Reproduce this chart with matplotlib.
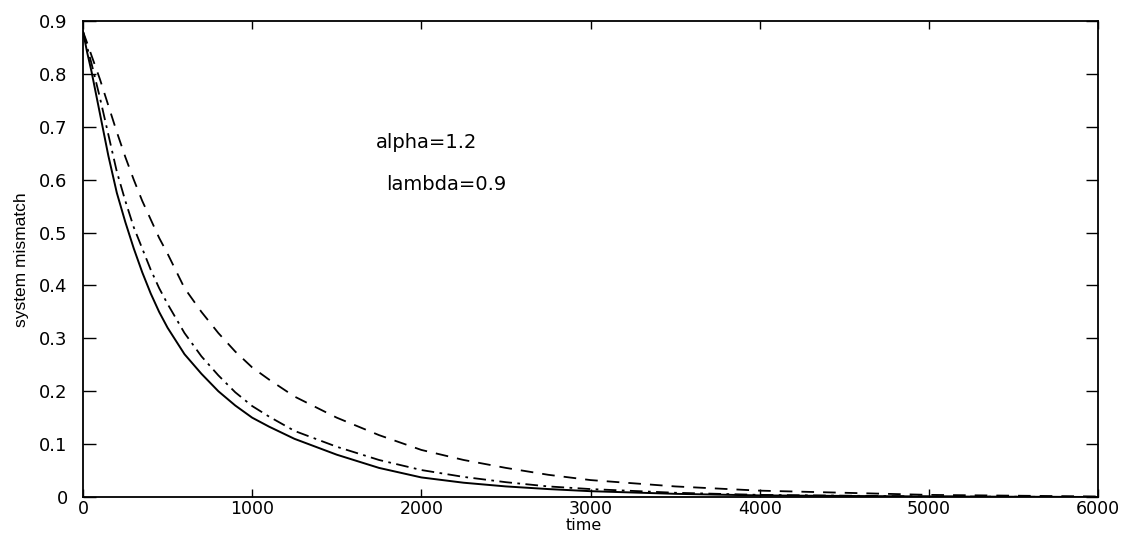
import matplotlib
matplotlib.use("Agg")
import matplotlib.pyplot as plt

# time samples
t = [0, 25, 50, 100, 150, 200, 250, 300, 350, 400, 450, 500, 600, 700, 800,
     900, 1000, 1100, 1250, 1500, 1750, 2000, 2250, 2500, 2750, 3000, 3500,
     4000, 5000, 6000]

# solid curve
solid = [0.88, 0.84, 0.805, 0.725, 0.645, 0.575, 0.52, 0.47, 0.425, 0.385,
         0.35, 0.32, 0.27, 0.233, 0.20, 0.173, 0.15, 0.133, 0.11, 0.08,
         0.055, 0.037, 0.027, 0.02, 0.015, 0.011, 0.006, 0.003, 0.001, 0.0]
# dash-dot curve
dashdot = [0.88, 0.85, 0.82, 0.755, 0.685, 0.615, 0.56, 0.51, 0.47, 0.43,
           0.395, 0.365, 0.31, 0.266, 0.23, 0.198, 0.172, 0.152, 0.125, 0.095,
           0.07, 0.051, 0.038, 0.028, 0.02, 0.015, 0.008, 0.004, 0.001, 0.0]
# dashed curve
dashed = [0.88, 0.858, 0.835, 0.79, 0.74, 0.69, 0.643, 0.60, 0.56, 0.525,
          0.49, 0.46, 0.395, 0.35, 0.31, 0.275, 0.245, 0.222, 0.19, 0.15,
          0.117, 0.089, 0.07, 0.055, 0.042, 0.032, 0.02, 0.012, 0.004, 0.001]

xticks = [0, 1000, 2000, 3000, 4000, 5000, 6000]
yticks = [0, 0.1, 0.2, 0.3, 0.4, 0.5, 0.6, 0.7, 0.8, 0.9]
ytick_labels = ["0", "0.1", "0.2", "0.3", "0.4", "0.5", "0.6", "0.7", "0.8", "0.9"]

plt.rcParams['font.family'] = ['DejaVu Sans']

fig = plt.figure(figsize=(11.31, 5.34), dpi=100)
ax = fig.add_axes([83 / 1131, 37 / 534, (1098 - 83) / 1131, (497 - 21) / 534])

ax.plot(t, solid, color='black', lw=1.4, linestyle='-')
ax.plot(t, dashdot, color='black', lw=1.3, linestyle=(0, (7, 3, 1.5, 3)))
ax.plot(t, dashed, color='black', lw=1.3, linestyle=(0, (7, 5)))

ax.set_xlim(0, 6000)
ax.set_ylim(0, 0.9)
ax.set_xticks(xticks)
ax.set_xticklabels([str(v) for v in xticks])
ax.set_yticks(yticks)
ax.set_yticklabels(ytick_labels)

ax.tick_params(direction='in', width=1, top=True, right=True, labelsize=13)
ax.tick_params(axis='y', pad=11, length=9)
ax.tick_params(axis='x', pad=2, length=6, labelsize=12.5)
for s in ax.spines.values():
    s.set_linewidth(1.3)

ax.set_xlabel("time", fontsize=11.5, va='center')
ax.xaxis.set_label_coords((584 - 83) / 1015, (497 - 526) / 476)
ax.set_ylabel("system mismatch", fontsize=12.5, family=['Liberation Sans', 'DejaVu Sans'],
              va='center')
ax.yaxis.set_label_coords((22 - 83) / 1015, (497 - 260) / 476)

ax.text(1730, 0.671, "alpha=1.2", fontsize=14, va='center', ha='left')
ax.text(1790, 0.59, "lambda=0.9", fontsize=14, va='center', ha='left')

fig.savefig("out.png", dpi=100)
